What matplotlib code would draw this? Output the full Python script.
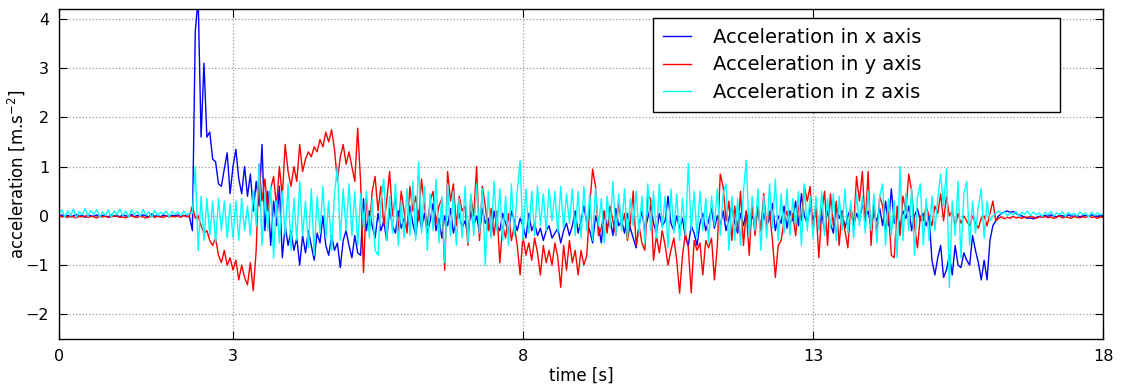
import numpy as np
import matplotlib
matplotlib.use("Agg")
import matplotlib.pyplot as plt

dt = 0.05  # sampling step [s]

acc_x = [
    0.00, 0.02, -0.01, 0.01, -0.02, 0.00, 0.03, -0.01, 0.01, -0.03, 0.02, 0.00, -0.01, 0.02, -0.02, 0.01, 0.00, -0.02, 0.02, -0.01,
    0.01, -0.02, 0.02, 0.00, -0.01, 0.03, -0.02, 0.01, -0.01, 0.02, 0.00, -0.02, 0.04, -0.01, 0.01, -0.02, 0.02, 0.00, -0.01, 0.01,
    0.00, 0.02, -0.01, 0.01, 0.00, -0.02, -0.30, 3.75, 4.40, 1.60, 3.10, 1.60, 1.70, 1.15, 1.10, 0.65, 0.60, 0.95, 1.28, 0.45,
    1.00, 1.35, 0.75, 0.45, 1.00, 0.40, 0.85, 0.10, 0.70, 0.20, 1.45, -0.30, 0.50, -0.60, 0.30, -0.20, 0.60, -0.85, -0.20, -0.60,
    -0.30, -0.70, -0.45, -1.00, -0.40, -0.75, -0.30, -0.60, -0.90, -0.35, -0.55, 0.00, -0.60, -0.80, -0.40, -0.70, -0.55, -1.05, -0.50, -0.30,
    -0.60, -0.85, -0.40, -0.75, -0.80, 0.35, -0.30, 0.10, -0.20, -0.45, 0.05, -0.30, -0.10, -0.50, 0.15, -0.20, -0.35, 0.10, -0.25, -0.05,
    -0.30, 0.20, -0.15, -0.40, 0.10, -0.25, 0.05, -0.35, -0.10, 0.25, -0.30, -0.05, -0.45, 0.00, -0.20, 0.15, -0.35, -0.10, 0.05, -0.25,
    -0.10, -0.40, 0.10, -0.20, 0.00, -0.35, 0.15, -0.15, -0.05, -0.40, 0.10, -0.20, -0.30, 0.05, -0.15, -0.35, 0.10, -0.10, -0.30, -0.05,
    -0.20, -0.45, 0.05, -0.30, -0.15, -0.40, -0.25, -0.50, -0.30, -0.20, -0.45, -0.35, -0.25, -0.55, -0.30, -0.15, -0.40, -0.20, 0.10, -0.35,
    -0.10, 0.20, -0.15, -0.30, -0.55, 0.00, -0.20, -0.55, 0.10, -0.25, -0.05, -0.40, 0.15, -0.20, -0.10, -0.35, 0.05, -0.25, -0.45, -0.65,
    -0.20, 0.10, -0.30, -0.05, 0.20, -0.15, -0.35, 0.05, -0.20, -0.10, 0.40, -0.15, -0.30, 0.00, -0.25, -0.05, -0.45, -0.60, -0.20, -0.35,
    -0.60, -0.15, 0.05, -0.30, -0.10, 0.15, -0.25, 0.00, -0.20, 0.10, -0.30, -0.05, 0.20, -0.15, -0.35, 0.05, -0.20, 0.10, -0.25, 0.00,
    -0.15, 0.15, -0.30, 0.05, -0.20, -0.05, 0.25, -0.30, 0.00, -0.15, 0.20, -0.25, 0.10, -0.10, 0.30, -0.20, 0.45, 0.00, -0.15, 0.20,
    -0.10, 0.15, -0.25, 0.05, -0.30, 0.10, -0.15, -0.35, 0.20, -0.05, 0.10, -0.25, 0.00, 0.15, -0.20, 0.05, -0.10, 0.25, -0.05, 0.10,
    -0.20, 0.05, -0.10, 0.15, -0.20, 0.30, -0.20, 0.55, -0.15, 0.05, -0.25, 0.10, -0.05, 0.20, -0.30, 0.00, 0.15, -0.10, 0.05, -0.20,
    0.00, -0.90, -1.20, -0.85, -0.60, -1.25, -1.10, -0.80, -1.20, -0.60, -1.00, -1.05, -0.75, -0.90, -1.00, -0.40, -0.70, -0.95, -1.30, -0.90,
    -1.30, -0.50, -0.20, -0.10, 0.00, 0.05, 0.08, 0.10, 0.07, 0.09, 0.05, 0.02, 0.00, -0.03, -0.05, -0.04, -0.06, -0.03, -0.01, 0.00,
    0.01, -0.01, 0.02, 0.00, -0.02, 0.01, 0.00, -0.01, 0.02, 0.00, -0.01, 0.01, -0.02, 0.00, 0.01, -0.01, 0.02, 0.00, -0.01, 0.01, 0.00,
]

acc_y = [
    0.00, -0.02, -0.01, -0.03, 0.00, -0.02, -0.04, -0.01, -0.02, 0.00, -0.03, -0.01, -0.02, -0.04, 0.00, -0.02, -0.01, -0.03, -0.02, 0.00,
    -0.01, -0.03, -0.02, -0.04, -0.01, 0.00, -0.02, -0.03, -0.01, -0.02, -0.04, -0.02, 0.00, -0.03, -0.01, -0.02, -0.03, 0.00, -0.02, -0.01,
    -0.02, 0.00, -0.03, 0.01, -0.02, 0.00, 0.20, -0.05, 0.00, -0.20, -0.35, -0.30, -0.50, -0.60, -0.45, -0.80, -0.95, -0.70, -1.00, -0.85,
    -1.10, -0.90, -1.30, -1.00, -1.25, -1.40, -0.95, -1.52, -0.70, 1.05, 0.30, 0.75, 0.10, 0.55, 0.80, 0.20, 1.00, 0.40, 1.45, 0.90,
    0.60, 1.00, 0.70, 1.45, 0.90, 1.15, 1.30, 1.20, 1.40, 1.30, 1.55, 1.40, 1.70, 1.50, 1.75, 1.35, 0.70, 1.20, 1.45, 1.05,
    1.30, 1.00, 0.70, 1.78, 0.70, -1.15, 0.40, -0.30, 0.50, 0.80, 0.10, 0.60, -0.20, 0.30, 0.90, 0.00, 0.40, -0.30, 0.50, 0.10,
    -0.35, 0.60, 0.10, 0.40, -0.10, 0.75, 0.20, -0.20, 0.30, 0.50, -0.15, 0.20, 0.35, -1.10, 0.90, 0.30, 0.65, -0.20, 0.40, 0.10,
    0.20, -0.60, 0.40, 0.00, 1.00, -0.50, 0.60, 0.20, -0.30, 0.15, -0.40, 0.10, -0.95, -0.20, -0.45, 0.05, -0.50, -0.20, -0.60, -1.20,
    -0.40, -0.80, -0.55, -0.90, -0.45, -0.75, -1.20, -0.60, -0.95, -0.70, -1.00, -0.55, -0.85, -1.45, -0.60, -1.10, -0.50, -0.95, -0.70, -1.20,
    -0.70, -1.00, -0.80, 0.20, 0.95, 0.60, -0.40, -0.25, 0.10, -0.35, 0.20, -0.10, -0.40, 0.30, -0.20, 0.05, -0.50, -0.15, 0.50, -0.60,
    -0.20, -0.55, -0.70, 0.40, 0.35, -0.90, -0.40, -0.75, -0.30, -0.60, -1.00, -0.70, -0.45, -0.90, -1.57, -0.80, -0.35, -0.65, -1.56, -0.50,
    -0.70, -0.55, -1.20, -0.50, -0.65, -0.45, -1.30, -0.60, 0.85, 0.60, -0.10, 0.30, -0.50, 0.20, -0.30, 0.50, -0.60, 0.10, -0.80, 0.25,
    -0.40, 0.20, -0.30, 0.45, -0.20, 0.10, -0.50, -1.25, -0.60, -0.50, -0.10, 0.10, -0.20, 0.05, -0.40, 0.20, -0.10, 0.60, 0.30, 0.60,
    -0.30, 0.20, -0.85, 0.10, 0.50, -0.60, 0.45, -0.20, 0.30, -0.60, 0.10, -0.30, -0.65, 0.20, -0.20, 0.80, 0.30, 0.90, -0.20, 0.90,
    -0.60, 0.30, -0.40, 0.40, 0.20, -0.30, 0.10, -0.80, -0.85, 0.20, -0.40, 0.40, 0.10, 0.85, 0.50, -0.20, -0.65, 0.00, -0.10, 0.20,
    0.00, -0.20, 0.20, 0.05, 0.45, -0.10, 0.40, 0.00, 0.10, -0.20, 0.05, -0.15, 0.00, -0.10, -0.20, 0.00, -0.15, -0.25, -0.05, 0.00,
    -0.20, 0.05, 0.30, -0.10, -0.05, -0.02, -0.06, -0.03, -0.05, -0.01, -0.04, -0.03, -0.05, -0.02, -0.04, 0.00, -0.03, -0.05, -0.02, -0.03,
    -0.01, -0.04, -0.02, -0.05, -0.03, 0.00, -0.04, -0.02, -0.03, -0.05, -0.01, -0.03, -0.04, -0.02, -0.03, 0.00, -0.03, -0.02, -0.05, -0.02, -0.03,
]

acc_z = [
    0.05, 0.12, -0.02, 0.10, 0.00, 0.14, -0.03, 0.09, 0.02, 0.15, -0.01, 0.11, 0.03, 0.13, -0.02, 0.08, 0.01, 0.12, -0.03, 0.10,
    0.02, 0.14, 0.00, 0.10, -0.02, 0.12, 0.03, 0.09, -0.01, 0.13, 0.02, 0.08, -0.03, 0.11, 0.01, 0.07, 0.04, 0.10, -0.02, 0.09,
    0.03, 0.08, 0.00, 0.10, 0.02, 0.06, 0.05, 1.00, -0.70, 0.40, -0.50, 0.35, -0.40, 0.30, -0.55, 0.35, -0.30, 0.30, -0.45, 0.25,
    -0.45, 0.30, -0.50, 0.35, -0.30, 0.20, -0.40, 0.50, -0.20, 1.05, -0.60, 0.45, -0.30, 0.60, -0.85, 0.30, -0.55, 0.50, -0.40, 0.65,
    -0.70, 0.35, -0.50, 0.70, -0.40, 0.30, -0.65, 0.55, -0.80, 0.40, -0.35, 0.60, -0.45, 0.30, -0.70, 0.45, 1.00, -0.50, 0.55, -0.30,
    0.65, -0.40, 0.50, -0.60, 0.45, -0.25, 0.50, -0.45, 0.35, -0.70, -0.80, 0.30, 0.75, -0.50, 0.40, -0.35, 0.65, -0.60, 0.30, -0.45,
    0.55, -0.40, 0.70, -0.50, 1.10, -0.35, 0.60, -0.70, 0.45, -0.30, 0.75, -0.55, 0.40, -0.95, 0.65, -0.40, 0.50, -0.60, 0.35, -0.45,
    0.60, -0.55, 0.45, -0.40, 0.65, -0.35, 0.55, -1.00, 0.50, -0.45, 0.70, -0.30, 0.55, -0.50, 0.40, -0.60, 0.65, -0.40, 0.50, 1.12,
    -0.50, 0.55, -0.35, 0.50, -0.40, 0.60, -0.20, 0.45, -0.30, 0.55, -0.10, 0.50, -0.35, 0.60, -0.25, 0.45, -0.15, 0.55, -0.40, 0.50,
    -0.45, 0.60, -0.30, 0.45, -0.50, 0.55, -0.20, 0.35, -0.55, 0.40, -0.25, 0.70, -0.40, 0.45, -0.30, 0.55, -0.45, 0.35, -0.20, 0.50,
    -0.35, 0.40, -0.55, 0.65, -0.30, 0.50, -0.45, 0.65, -0.25, 0.40, -0.65, 0.55, -0.35, 0.45, -0.50, 0.35, -0.40, 1.06, -0.30, 0.50,
    -0.45, 0.50, -0.30, 0.35, -0.55, 0.40, -0.20, 0.55, -0.40, 0.45, 0.65, -0.70, 0.40, -0.50, 0.35, -0.60, 0.50, 1.13, -0.45, 0.40,
    -0.30, 0.55, -0.70, 0.40, -0.45, 0.65, -0.25, 0.75, -0.50, 0.45, -0.35, 0.55, -0.40, 0.35, -0.20, 0.50, -0.60, 0.65, -0.30, 0.40,
    -0.45, 0.40, -0.30, 0.50, -0.40, 0.35, -0.25, 0.45, -0.50, 0.40, -0.30, 0.55, -0.35, 0.30, -0.45, 0.45, -0.20, 0.40, -0.35, 0.50,
    -0.30, 0.45, -0.55, 0.40, 0.65, -0.60, 0.35, -0.40, 0.30, -0.85, 1.00, -0.50, 0.45, -0.30, 0.55, -0.80, 0.40, 0.65, -0.60, 0.35,
    -0.50, 0.40, -0.30, 0.35, 0.85, 0.20, 0.95, -1.45, 0.30, -0.40, 0.70, -0.85, 0.45, 0.70, -0.60, 0.30, -0.35, 0.20, 0.55, -0.45,
    0.30, -0.10, 0.00, 0.05, 0.10, 0.03, 0.08, 0.00, 0.06, 0.02, 0.09, -0.01, 0.07, 0.03, 0.10, 0.00, 0.08, 0.02, 0.06, -0.01,
    0.07, 0.02, 0.09, 0.00, 0.06, 0.03, 0.08, -0.01, 0.07, 0.02, 0.05, 0.00, 0.08, 0.03, 0.06, -0.02, 0.07, 0.01, 0.06, 0.02, 0.04,
]

labels = ["Acceleration in x axis", "Acceleration in y axis", "Acceleration in z axis"]
colors = ["#0000ff", "#ff0000", "#00ffff"]
x_ticks = [0, 3, 8, 13, 18]
y_ticks = [-2, -1, 0, 1, 2, 3, 4]

plt.rcParams.update({
    "font.family": "DejaVu Sans",
    "xtick.direction": "in",
    "ytick.direction": "in",
    "xtick.top": True,
    "ytick.right": True,
    "xtick.major.size": 6,
    "ytick.major.size": 6,
})

fig = plt.figure(figsize=(11.21, 3.87), dpi=100)
ax = fig.add_axes([0.0526, 0.124, 0.9314, 0.8527])

for series, lab, col in zip([acc_x, acc_y, acc_z], labels, colors):
    t = np.arange(len(series)) * dt
    ax.plot(t, series, color=col, lw=1.0, label=lab)

ax.set_xlim(0, 18)
ax.set_ylim(-2.5, 4.2)
ax.set_xticks(x_ticks)
ax.set_yticks(y_ticks)
ax.tick_params(labelsize=11.5, pad=7)
ax.grid(True, color="#9a9a9a", linestyle=":", linewidth=0.9)
for sp in ax.spines.values():
    sp.set_linewidth(1.0)

ax.set_xlabel("time [s]", fontsize=12, labelpad=2)
ax.set_ylabel("acceleration [m.s$^{-2}$]", fontsize=12, labelpad=-1)

leg = ax.legend(loc="upper right", bbox_to_anchor=(0.569, 0.66, 0.3898, 0.3127),
                mode="expand", fontsize=14, handlelength=1.45, handletextpad=1.13,
                labelspacing=0.45, borderpad=0.5, borderaxespad=0.0,
                fancybox=False, framealpha=1.0)
leg.get_frame().set_edgecolor("black")
leg.get_frame().set_linewidth(1.0)

fig.savefig("out.png", dpi=100)
